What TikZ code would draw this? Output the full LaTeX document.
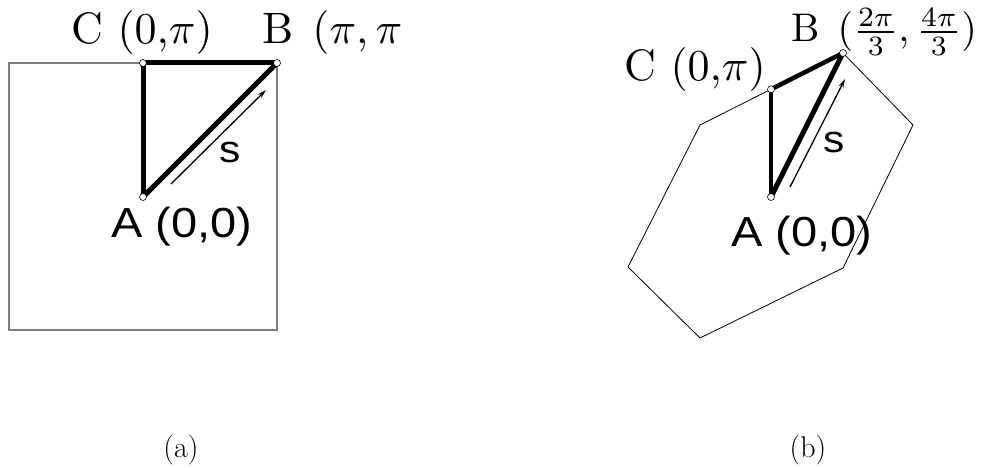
\documentclass[tikz,border=0pt]{standalone}
\usepackage{fontspec}
\newfontfamily\sansA{Liberation Sans}
\usetikzlibrary{arrows.meta}
\newcommand\bigserif[2][4.4]{\scalebox{#1}{\fontsize{10}{12}\selectfont #2}}
\begin{document}
\begin{tikzpicture}[x=1pt,y=-1pt,
  ptmark/.style={circle,draw=black,fill=white,line width=0.6pt,inner sep=0pt,minimum size=7pt},
  thickedge/.style={line width=5pt},
  serif/.style={inner sep=0pt,anchor=base west},
  sanslbl/.style={inner sep=0pt,anchor=base west,font=\sansA\fontsize{42}{48}\selectfont},
  slbl/.style={inner sep=0pt,anchor=base west,font=\sansA\fontsize{38}{44}\selectfont},
  captext/.style={inner sep=0pt,anchor=base,font=\fontsize{30}{34}\selectfont},
  arr/.style={line width=1.3pt,-{Stealth[length=9pt,width=5pt]}},
]
\useasboundingbox (0,0) rectangle (988,468);
% ---------- (a)
\coordinate (sq1) at (9,63);
\coordinate (sq2) at (277,330);
\draw[gray,line width=1.1pt] (sq1) rectangle (sq2);
\coordinate (a1) at (143,197);
\coordinate (b1) at (277,63);
\coordinate (c1) at (143,63);
\draw[thickedge] (a1) -- (c1);
\draw[thickedge] (c1) -- (b1);
\draw[thickedge] (a1) -- (b1);
\node[ptmark] (A1) at (a1) {};
\node[ptmark] (B1) at (b1) {};
\node[ptmark] (C1) at (c1) {};
\coordinate (s1a) at (171,184);
\coordinate (s1b) at (266,90);
\draw[arr] (s1a) -- (s1b);
\node[slbl] (sA) at (219,163) {\scalebox{1.12}[1]{s}};
\node[serif] (lC1) at (71,44) {\bigserif{C $(0{,}\pi)$}};
\node[serif] (lB1) at (262,44) {\bigserif{B\hspace{1pt} $(\pi,\pi$}};
\node[sanslbl] (lA1) at (111,237) {\scalebox{1.12}[1]{A (0,0)}};
\node[captext] (capa) at (181,457) {(a)};
% ---------- (b)
\coordinate (b2) at (843,53);
\coordinate (c2) at (771,89.3);
\coordinate (a2) at (771,197);
\coordinate (h2) at (913,125);
\coordinate (h3) at (843,268);
\coordinate (h4) at (700,338);
\coordinate (h5) at (628,267);
\coordinate (h6) at (700,125);
\draw[line width=0.8pt,line join=round] (b2) -- (h2) -- (h3) -- (h4) -- (h5) -- (h6) -- cycle;
\draw[thickedge,line width=4.5pt] (a2) -- (c2);
\draw[thickedge,line width=4.5pt] (c2) -- (b2);
\draw[thickedge] (a2) -- (b2);
\node[ptmark] (A2) at (a2) {};
\node[ptmark] (B2) at (b2) {};
\node[ptmark] (C2) at (c2) {};
\coordinate (s2a) at (790,187);
\coordinate (s2b) at (845,79);
\draw[arr] (s2a) -- (s2b);
\node[slbl] (sB) at (823,153) {\scalebox{1.12}[1]{s}};
\node[serif] (lC2) at (624,81) {\bigserif{C $(0{,}\pi)$}};
\node[serif] (lB2) at (791,42) {\bigserif[4.0]{B\hspace{1.2pt} $(\frac{2\pi}{3},\frac{4\pi}{3})$}};
\node[sanslbl] (lA2) at (731,246) {\scalebox{1.12}[1]{A (0,0)}};
\node[captext] (capb) at (808,457) {(b)};
\end{tikzpicture}
\end{document}
